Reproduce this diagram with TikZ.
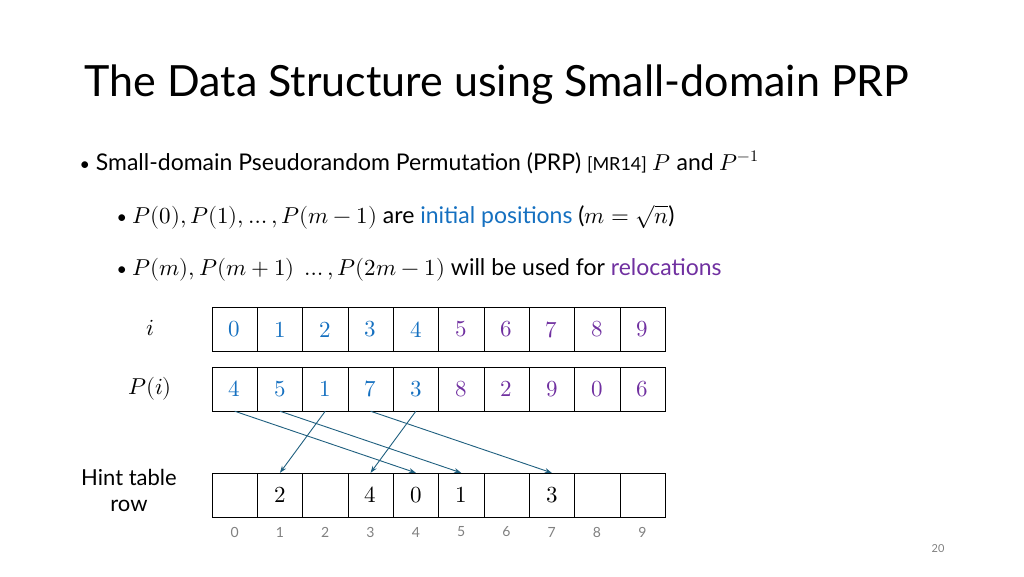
\documentclass[tikz,border=0pt]{standalone}
\usetikzlibrary{arrows.meta}
\usepackage{fontspec}
\usepackage{unicode-math}
\setmainfont{Lato}
\setmathfont{Latin Modern Math}
\definecolor{ublue}{HTML}{1570C0}
\definecolor{upurple}{HTML}{7030A0}
\definecolor{arr}{HTML}{1F5F7F}
\begin{document}
\begin{tikzpicture}[x=1pt,y=-1pt,
  cell/.style={draw,minimum width=45.3pt,minimum height=44pt,inner sep=0pt,font=\fontsize{23}{24}\selectfont},
  idx/.style={font=\fontsize{14}{16}\selectfont,text=gray},
  conn/.style={draw=arr,line width=0.9pt,-{Stealth[length=7pt,width=5pt]}}]
\useasboundingbox (0,0) rectangle (1024,576);
\node[anchor=base west,font=\fontsize{43}{48}\selectfont] (title) at (81,96) {The Data Structure using Small-domain PRP};
\node[anchor=base west,font=\fontsize{23}{28}\selectfont] (b1) at (76,170) {{\fontsize{18}{20}\selectfont•} Small-domain Pseudorandom Permutation (PRP) {\fontsize{18}{22}\selectfont[MR14]} $P$ and $P^{-1}$};
\node[anchor=base west,font=\fontsize{23}{28}\selectfont] (b2) at (113,223) {{\fontsize{18}{20}\selectfont•} $P(0),P(1),\ldots,P(m-1)$ are \textcolor{ublue}{initial positions} ($m=\sqrt{n}$)};
\node[anchor=base west,font=\fontsize{23}{28}\selectfont] (b3) at (113,275) {{\fontsize{18}{20}\selectfont•} $P(m),P(m+1)\ \ldots,P(2m-1)$ will be used for \textcolor{upurple}{relocations}};
\node[font=\fontsize{23}{24}\selectfont] (li) at (150,328) {$i$};
\node[font=\fontsize{23}{24}\selectfont] (lp) at (150,389) {$P(i)$};
\node[align=center,font=\fontsize{22}{26}\selectfont] (lh) at (129,490) {Hint table\\row};
\foreach \v [count=\k from 0] in {0,1,2,3,4,5,6,7,8,9}{
  \pgfmathsetmacro\xx{234.65+45.3*\k}
  \ifnum\k<5 \def\cc{ublue}\else\def\cc{upurple}\fi
  \node[cell,text=\cc] (a\k) at (\xx,329.5) {$\v$};
}
\foreach \v [count=\k from 0] in {4,5,1,7,3,8,2,9,0,6}{
  \pgfmathsetmacro\xx{234.65+45.3*\k}
  \ifnum\k<5 \def\cc{ublue}\else\def\cc{upurple}\fi
  \node[cell,text=\cc] (p\k) at (\xx,389) {$\v$};
}
\foreach \v [count=\k from 0] in {{},2,{},4,0,1,{},3,{},{}}{
  \pgfmathsetmacro\xx{234.65+45.3*\k}
  \node[cell] (h\k) at (\xx,495) {$\v$};
  \node[idx] (n\k) at (\xx,532) {\k};
}
\draw[conn] (p0.south) -- (h4.north);
\draw[conn] (p1.south) -- (h5.north);
\draw[conn] (p2.south) -- (h1.north);
\draw[conn] (p3.south) -- (h7.north);
\draw[conn] (p4.south) -- (h3.north);
\node[font=\fontsize{11}{14}\selectfont,text=gray] (pg) at (938,549) {20};
\end{tikzpicture}
\end{document}
